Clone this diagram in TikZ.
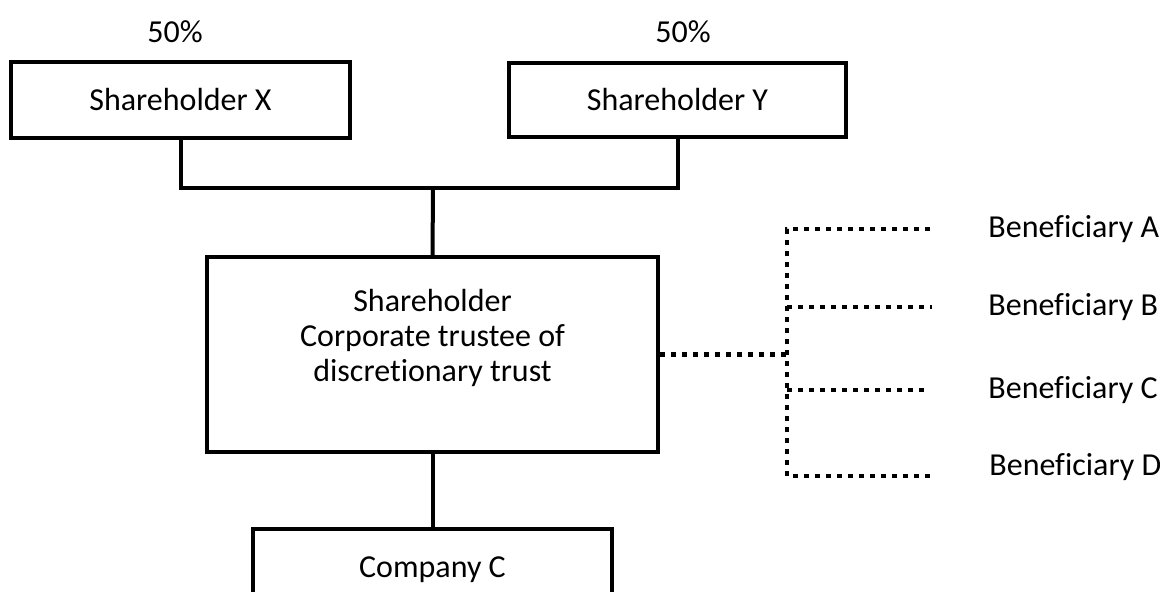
\documentclass[tikz,border=0pt]{standalone}
\usepackage{fontspec}
\setmainfont{Carlito}[Ligatures=NoCommon]
\usetikzlibrary{positioning,calc}

\begin{document}
\begin{tikzpicture}[x=0.5pt, y=-0.5pt,
		font=\fontsize{16}{17.5}\selectfont,
		box/.style={draw, line width=2pt, inner sep=0pt},
		link/.style={line width=2pt},
		dotline/.style={line width=2.2pt, dash pattern=on 2.5pt off 3pt}]
			\useasboundingbox (0,0) rectangle (1160,592);
			% owners
			\node[box, minimum width=169.5pt, minimum height=38pt] (shX) at (180.5,100) {Shareholder X};
			\node[box, minimum width=168.5pt, minimum height=37pt] (shY) at (677.5,100) {Shareholder Y};
			\node (pctX) at (175,32) {50\%};
			\node (pctY) at (683,32) {50\%};
			% trustee and company
			\node[box, minimum width=225.5pt, minimum height=97.5pt,
				label={[align=center, yshift=8.5pt]center:Shareholder\\Corporate trustee of\\discretionary trust}] (trust) at (432.5,354.5) {};
			\node[box, minimum width=179.5pt, minimum height=38pt, text depth=0pt] (comp) at (432.5,567) {Company C};
			\coordinate (hub) at (433,188);
			\draw[link] (shX.south) |- (hub) -| (shY.south);
			\draw[link] (hub) -- (trust.north);
			\draw[link] (trust.south) -- (comp.north);
			% beneficiaries
			\node[anchor=west, inner xsep=0pt] (benA) at (988,229) {Beneficiary A};
			\node[anchor=west, inner xsep=0pt] (benB) at (988,307) {Beneficiary B};
			\node[anchor=west, inner xsep=0pt] (benC) at (988,390) {Beneficiary C};
			\node[anchor=west, inner xsep=0pt] (benD) at (989,467) {Beneficiary D};
			\foreach \n/\y/\e in {A/229/930, B/307/932, C/390/927, D/476/932}{
				\coordinate (j\n) at (787,\y);
				\coordinate (end\n) at (\e,\y);
			}
			\coordinate (jn) at (787,354.5);
			\draw[dotline] (endA) -- (jA) -- (jD) -- (endD);
			\draw[dotline] (jB) -- (endB);
			\draw[dotline] (jC) -- (endC);
			\draw[dotline] (trust.east) -- (jn);
		\end{tikzpicture}
\end{document}
